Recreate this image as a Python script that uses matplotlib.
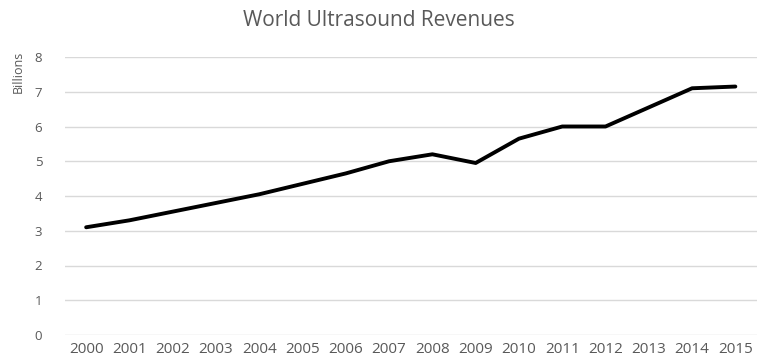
import matplotlib
matplotlib.use("Agg")
import matplotlib.pyplot as plt

plt.rcParams['font.family'] = ['Open Sans', 'DejaVu Sans']

years = [str(y) for y in range(2000, 2016)]
revenues = [3.1, 3.3, 3.55, 3.8, 4.05, 4.35, 4.65, 5.0, 5.2, 4.95,
            5.65, 6.0, 6.0, 6.55, 7.1, 7.15]
y_ticks = [0, 1, 2, 3, 4, 5, 6, 7, 8]

fig = plt.figure(figsize=(7.57, 3.62), dpi=100)
ax = fig.add_axes([64.5 / 757, 27 / 362, (757 - 64.5) / 757, (335 - 57) / 362])

x = list(range(len(years)))
ax.plot(x, revenues, color='black', linewidth=2.8, solid_capstyle='round')

ax.set_xlim(-0.5, len(years) - 0.5)
ax.set_ylim(0, 8)
ax.set_xticks(x)
ax.set_xticklabels(years)
ax.set_yticks(y_ticks)
ax.grid(axis='y', color='#d9d9d9', linewidth=1)
ax.set_axisbelow(True)
for s in ax.spines.values():
    s.set_visible(False)
ax.tick_params(length=0, colors='#595959')
ax.tick_params(axis='x', labelsize=11, pad=5)
ax.tick_params(axis='y', labelsize=9.5, pad=16)

fig.text(18 / 757, 1 - 72 / 362, 'Billions', rotation=90, ha='center', va='center',
         fontsize=9, color='#595959')
fig.text(0.5, 1 - 21 / 362, 'World Ultrasound Revenues', ha='center', va='center',
         fontsize=15, color='#595959')

fig.savefig('out.png', dpi=100)
